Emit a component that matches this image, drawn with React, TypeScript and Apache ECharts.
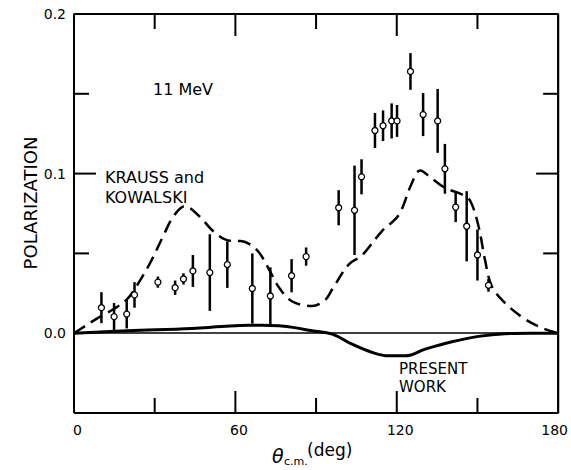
import React, { useEffect, useRef } from "react";
import * as echarts from "echarts";

// ---- data ----
const xMin = 0;
const xMax = 180;
const yMin = -0.05;
const yMax = 0.2;
const xTickLabels = [0, 60, 120, 180];
const xMajorTicks = [60, 120];
const xMinorTicks = [30, 90, 150];
const yLabelValues = [0, 0.1, 0.2];
const yMajorTicks = [0.1];
const yMinorTicks = [0.05, 0.15];

// measured points (theta c.m. in deg, polarization, error)
const angle = [10.2, 14.9, 19.6, 22.5, 31.2, 37.6, 40.7, 44.2, 50.5, 57.0, 66.3, 73.0, 80.9, 86.3, 98.4, 104.3, 106.9, 111.9, 114.9, 118.1, 120.1, 125.1, 129.8, 135.2, 137.9, 141.9, 146.0, 150.0, 154.1];
const polarization = [0.016, 0.0104, 0.012, 0.024, 0.032, 0.0285, 0.034, 0.039, 0.038, 0.043, 0.028, 0.0233, 0.036, 0.048, 0.0786, 0.077, 0.098, 0.127, 0.13, 0.133, 0.133, 0.164, 0.137, 0.133, 0.103, 0.079, 0.067, 0.049, 0.03];
const polError = [0.0097, 0.0085, 0.009, 0.008, 0.0035, 0.0045, 0.0035, 0.01, 0.024, 0.0146, 0.022, 0.018, 0.0104, 0.0057, 0.011, 0.028, 0.011, 0.011, 0.0096, 0.011, 0.01, 0.0115, 0.0135, 0.02, 0.0156, 0.0094, 0.022, 0.016, 0.004];

// Krauss and Kowalski curve (dashed)
const kkAngle = [0, 2.3, 9.1, 14.6, 19.6, 23.3, 28.3, 33.2, 36.9, 41.2, 46.8, 51.7, 57.7, 62, 65.1, 68.8, 72.5, 76.2, 81, 88.5, 93.5, 96, 102.1, 107.1, 114.5, 120.7, 125.6, 128.7, 133.0, 138, 144.2, 147.3, 150.4, 152.8, 155.3, 160.2, 167.7, 175.1, 180];
const kkPol = [0, 0.0025, 0.0098, 0.015, 0.021, 0.0296, 0.044, 0.061, 0.073, 0.0796, 0.073, 0.064, 0.058, 0.0577, 0.056, 0.0506, 0.04, 0.0287, 0.02, 0.017, 0.021, 0.0275, 0.043, 0.0488, 0.064, 0.074, 0.094, 0.102, 0.097, 0.091, 0.087, 0.083, 0.067, 0.046, 0.0296, 0.019, 0.0088, 0.0025, 0];

// Present work curve (solid)
const pwAngle = [0, 20, 44, 55, 65, 70, 76.2, 82, 88.5, 96, 103.4, 110.8, 117, 123.2, 130.6, 140.5, 150.4, 160.2, 170, 180];
const pwPol = [0, 0.0015, 0.003, 0.0042, 0.005, 0.005, 0.0046, 0.0035, 0.0015, -0.0006, -0.0069, -0.012, -0.0142, -0.0142, -0.01, -0.0054, -0.002, -0.0003, 0, 0];

export default function App() {
  const ref = useRef<HTMLDivElement>(null);
  useEffect(() => {
    if (!ref.current) return;
    const chart = echarts.init(ref.current, null, { renderer: "svg" });
    const font = "DejaVu Sans";
    const black = "#000000";
    const MAJOR = 22;
    const MINOR = 15;

    const textStyle = (size: number) => ({ fill: black, fontFamily: font, fontSize: size, verticalAlign: "middle" });

    // segments: [x1, y1, x2, y2, dx, dy, width]; second end = coord(x2, y2) + (dx, dy) px
    const segs: number[][] = [];
    angle.forEach((a, i) => segs.push([a, polarization[i] - polError[i], a, polarization[i] + polError[i], 0, 0, 2.5]));
    // frame
    segs.push([xMin, yMax, xMax, yMax, 0, 0, 2]);
    segs.push([xMax, yMax, xMax, yMin, 0, 0, 2]);
    segs.push([xMax, yMin, xMin, yMin, 0, 0, 2]);
    segs.push([xMin, yMin, xMin, yMax, 0, 0, 2]);
    // ticks (inside, on all four sides)
    const vTick = (v: number, len: number) => {
      segs.push([v, yMin, v, yMin, 0, -len, 2]);
      segs.push([v, yMax, v, yMax, 0, len, 2]);
    };
    const hTick = (v: number, len: number) => {
      segs.push([xMin, v, xMin, v, len, 0, 2]);
      segs.push([xMax, v, xMax, v, -len, 0, 2]);
    };
    xMajorTicks.forEach((v) => vTick(v, MAJOR));
    xMinorTicks.forEach((v) => vTick(v, MINOR));
    yMajorTicks.forEach((v) => hTick(v, MAJOR));
    yMinorTicks.forEach((v) => hTick(v, MINOR));

    chart.setOption({
      animation: false,
      grid: { left: 74, right: 11, top: 14, bottom: 57 },
      xAxis: {
        type: "value",
        min: xMin,
        max: xMax,
        interval: 60,
        axisLine: { show: false },
        axisTick: { show: false },
        splitLine: { show: false },
        axisLabel: {
          color: black,
          fontFamily: font,
          fontSize: 14,
          margin: 10,
          formatter: (v: number) => {
            if (!xTickLabels.includes(v)) return "";
            if (v === 180) return "{r|" + v + "}";
            return "{l|" + v + "}";
          },
          rich: {
            l: { fontFamily: font, fontSize: 14, color: black, padding: [0, 0, 0, 7] },
            r: { fontFamily: font, fontSize: 14, color: black, padding: [0, 7, 0, 0] },
          },
        },
      },
      yAxis: {
        type: "value",
        min: yMin,
        max: yMax,
        interval: 0.05,
        axisLine: { show: false },
        axisTick: { show: false },
        splitLine: { show: false },
        axisLabel: {
          color: black,
          fontFamily: font,
          fontSize: 14,
          margin: 8,
          formatter: (v: number) =>
            yLabelValues.some((t) => Math.abs(t - v) < 1e-6) ? v.toFixed(1) : "",
        },
      },
      series: [
        {
          name: "frame",
          type: "line",
          clip: false,
          silent: true,
          showSymbol: false,
          symbol: "none",
          data: [
            [xMin, yMin],
            [xMin, yMax],
            [xMax, yMax],
            [xMax, yMin],
            [xMin, yMin],
          ],
          lineStyle: { color: black, width: 2 },
          z: 4,
        },
        {
          name: "KRAUSS and KOWALSKI",
          type: "line",
          data: kkAngle.map((a, i) => [a, kkPol[i]]),
          smooth: 0.35,
          showSymbol: false,
          symbol: "none",
          lineStyle: { color: black, width: 2.5, type: [13, 7] },
          z: 2,
        },
        {
          name: "PRESENT WORK",
          type: "line",
          data: pwAngle.map((a, i) => [a, pwPol[i]]),
          smooth: 0.4,
          showSymbol: false,
          symbol: "none",
          lineStyle: { color: black, width: 3 },
          z: 2,
          markLine: {
            silent: true,
            symbol: ["none", "none"],
            label: { show: false },
            lineStyle: { color: black, width: 1.5, type: "solid" },
            data: [{ yAxis: 0 }],
          },
        },
        {
          name: "error bars, frame and ticks",
          type: "custom",
          data: segs,
          encode: { x: [0, 2], y: [1, 3] },
          renderItem: (params: any, api: any) => {
            const p1 = api.coord([api.value(0), api.value(1)]);
            const p2 = api.coord([api.value(2), api.value(3)]);
            return {
              type: "line",
              shape: { x1: p1[0], y1: p1[1], x2: p2[0] + api.value(4), y2: p2[1] + api.value(5) },
              style: { stroke: black, lineWidth: api.value(6) },
            };
          },
          z: 3,
        },
        {
          name: "data",
          type: "scatter",
          data: angle.map((a, i) => [a, polarization[i]]),
          symbol: "circle",
          symbolSize: 6,
          itemStyle: { color: "#fff", borderColor: black, borderWidth: 1.3, opacity: 1 },
          z: 5,
        },
      ],
      graphic: [
        { type: "text", x: 153, y: 89, style: { ...textStyle(16), text: "11 MeV" } },
        { type: "text", x: 105, y: 177, style: { ...textStyle(16), text: "KRAUSS and" } },
        { type: "text", x: 105, y: 197, style: { ...textStyle(16), text: "KOWALSKI" } },
        { type: "text", x: 399, y: 369, style: { ...textStyle(15), text: "PRESENT" } },
        { type: "text", x: 399, y: 387, style: { ...textStyle(15), text: "WORK" } },
        {
          type: "text",
          x: 30,
          y: 203,
          rotation: Math.PI / 2,
          style: { ...textStyle(18), text: "POLARIZATION", align: "center" },
        },
        { type: "text", x: 272, y: 456, style: { ...textStyle(19), text: "θ", fontStyle: "italic" } },
        { type: "text", x: 284, y: 461, style: { ...textStyle(11), text: "c.m." } },
        { type: "text", x: 307, y: 450, style: { ...textStyle(17), text: "(deg)" } },
      ],
    });

    return () => chart.dispose();
  }, []);
  return (
    <div
      ref={ref}
      style={{ position: "absolute", left: 0, top: 0, width: 571, height: 470, background: "#fff" }}
    />
  );
}
